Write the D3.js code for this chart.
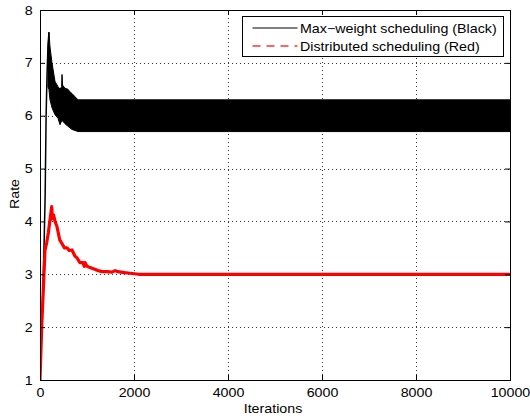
<!DOCTYPE html>
<html>
<head>
<meta charset="utf-8">
<script src="https://cdn.jsdelivr.net/npm/d3@7"></script>
<style>
  body { margin: 0; background: #fff; }
  svg text { font-family: "Liberation Sans", Arial, Helvetica, sans-serif; }
</style>
</head>
<body>
<div id="chart"></div>
<script>
// values
var xTicks = [0, 2000, 4000, 6000, 8000, 10000];
var yTicks = [1, 2, 3, 4, 5, 6, 7, 8];

// black: initial climb, then the oscillation band (upper / lower envelope)
var blackRiseIter = [0, 40, 80, 110, 130, 150, 170, 190];
var blackRiseVal  = [1, 2.0, 3.3, 4.5, 6.0, 6.8, 7.3, 7.58];

var bandIter  = [170, 190, 213, 255, 319, 383, 426, 460, 468, 480, 530, 596, 638, 681, 745, 809, 10000];
var bandUpper = [7.3, 7.58, 7.3, 7.0, 6.65, 6.55, 6.5, 6.55, 6.78, 6.58, 6.52, 6.5, 6.45, 6.42, 6.36, 6.3, 6.3];
var bandLower = [6.54, 6.5, 6.3, 6.15, 6.02, 5.95, 5.83, 5.9, 5.92, 5.9, 5.85, 5.8, 5.77, 5.74, 5.72, 5.7, 5.7];

// red: distributed scheduling
var redIter = [0, 36, 70, 106, 143, 177, 213, 249, 265, 290, 320, 362, 420, 468, 520, 574, 620, 681, 740, 787,
               850, 915, 940, 960, 1000, 1064, 1150, 1234, 1330, 1426, 1530, 1600, 1650, 1800, 1915, 2100, 10000];
var redVal  = [1, 2.0, 2.7, 3.45, 3.6, 3.78, 4.03, 4.28, 4.05, 4.12, 4.0, 3.9, 3.65, 3.58, 3.5, 3.5, 3.45, 3.46, 3.35, 3.31,
               3.22, 3.22, 3.15, 3.22, 3.15, 3.13, 3.1, 3.07, 3.05, 3.05, 3.04, 3.07, 3.05, 3.03, 3.02, 3.0, 3.0];

var legendLabels = ["Max\u2212weight scheduling (Black)", "Distributed scheduling (Red)"];

var width = 530, height = 418;
var margin = {left: 40, right: 20, top: 10, bottom: 38};
var plotW = width - margin.left - margin.right;
var plotH = height - margin.top - margin.bottom;
var fontSize = '12.5px';
var stretch = 'scale(1.14,1)';   // the original font runs a bit wider than Helvetica

var svg = d3.select('#chart')
    .append('svg')
    .attr('width', width)
    .attr('height', height);

var x = d3.scaleLinear().domain([0, 10000]).range([0, plotW]);
var y = d3.scaleLinear().domain([1, 8]).range([plotH, 0]);

var g = svg.append('g')
    .attr('transform', 'translate(' + margin.left + ',' + margin.top + ')');

// dotted grid
g.append('g').selectAll('line').data(xTicks.slice(1, -1)).enter()
    .append('line')
    .attr('x1', function(d) { return Math.round(x(d)) + 0.5; })
    .attr('x2', function(d) { return Math.round(x(d)) + 0.5; })
    .attr('y1', 0).attr('y2', plotH)
    .attr('stroke', '#333').attr('stroke-dasharray', '1,3');
g.append('g').selectAll('line').data(yTicks.slice(1, -1)).enter()
    .append('line')
    .attr('y1', function(d) { return Math.round(y(d)) + 0.5; })
    .attr('y2', function(d) { return Math.round(y(d)) + 0.5; })
    .attr('x1', 0).attr('x2', plotW)
    .attr('stroke', '#333').attr('stroke-dasharray', '1,3');

svg.append('clipPath').attr('id', 'clip')
    .append('rect').attr('width', plotW).attr('height', plotH);

var data = g.append('g').attr('clip-path', 'url(#clip)');

// black band
var bandArea = d3.area()
    .x(function(d, i) { return x(bandIter[i]); })
    .y0(function(d, i) { return y(bandLower[i]); })
    .y1(function(d, i) { return y(bandUpper[i]); });
data.append('path')
    .datum(bandIter)
    .attr('d', bandArea)
    .attr('fill', '#000')
    .attr('stroke', '#000')
    .attr('stroke-width', 1);

var line = d3.line()
    .x(function(d) { return x(d[0]); })
    .y(function(d) { return y(d[1]); });

data.append('path')
    .datum(d3.zip(blackRiseIter, blackRiseVal))
    .attr('d', line)
    .attr('fill', 'none')
    .attr('stroke', '#000')
    .attr('stroke-width', 1.5);

data.append('path')
    .datum(d3.zip(redIter, redVal))
    .attr('d', line)
    .attr('fill', 'none')
    .attr('stroke', '#f00')
    .attr('stroke-width', 3.2)
    .attr('stroke-linejoin', 'round');

// axes (ticks inside, on all four sides)
g.append('g').attr('class', 'xaxis').attr('transform', 'translate(0,' + plotH + ')')
    .call(d3.axisBottom(x).tickValues(xTicks).tickSize(-5).tickPadding(8).tickFormat(d3.format('d')));
g.append('g').attr('class', 'yaxis')
    .call(d3.axisLeft(y).tickValues(yTicks).tickSize(-5).tickFormat(d3.format('d')));
g.append('g')
    .call(d3.axisTop(x).tickValues(xTicks).tickSize(-5).tickFormat(''));
g.append('g').attr('transform', 'translate(' + plotW + ',0)')
    .call(d3.axisRight(y).tickValues(yTicks).tickSize(-5).tickFormat(''));

g.selectAll('.domain').remove();
g.selectAll('.tick text').attr('font-size', fontSize).attr('fill', '#000')
    .style('font-family', '"Liberation Sans", Arial, sans-serif')
    .attr('transform', stretch);
g.selectAll('.yaxis .tick text').attr('x', -6.5);
g.selectAll('.tick line').attr('stroke', '#000');

g.append('rect')
    .attr('x', 0.5).attr('y', 0.5)
    .attr('width', plotW).attr('height', plotH)
    .attr('fill', 'none').attr('stroke', '#000').attr('stroke-width', 1);

// axis labels
svg.append('g').attr('transform', 'translate(' + (margin.left + plotW / 2 - 2) + ',413)')
    .append('text')
    .attr('transform', stretch)
    .attr('text-anchor', 'middle').attr('font-size', fontSize)
    .text('Iterations');
svg.append('g').attr('transform', 'translate(19,194) rotate(-90)')
    .append('text')
    .attr('transform', stretch)
    .attr('text-anchor', 'middle').attr('font-size', fontSize)
    .text('Rate');

// legend
var lg = svg.append('g').attr('transform', 'translate(242.5,16.5)');
lg.append('rect')
    .attr('width', 261).attr('height', 40)
    .attr('fill', '#fff').attr('stroke', '#000').attr('stroke-width', 1);
var legendStyles = [
    {color: '#000', dash: null, w: 1},
    {color: '#f33', dash: '8,6', w: 1.3}
];
legendLabels.forEach(function(label, i) {
    var ly = 11.5 + i * 18;
    lg.append('line')
        .attr('x1', 10).attr('x2', 55)
        .attr('y1', ly).attr('y2', ly)
        .attr('stroke', legendStyles[i].color)
        .attr('stroke-width', legendStyles[i].w)
        .attr('stroke-dasharray', legendStyles[i].dash);
    lg.append('g').attr('transform', 'translate(57.5,' + (ly + 4.5) + ')')
        .append('text')
        .attr('transform', stretch)
        .attr('font-size', fontSize)
        .text(label);
});
</script>
</body>
</html>
